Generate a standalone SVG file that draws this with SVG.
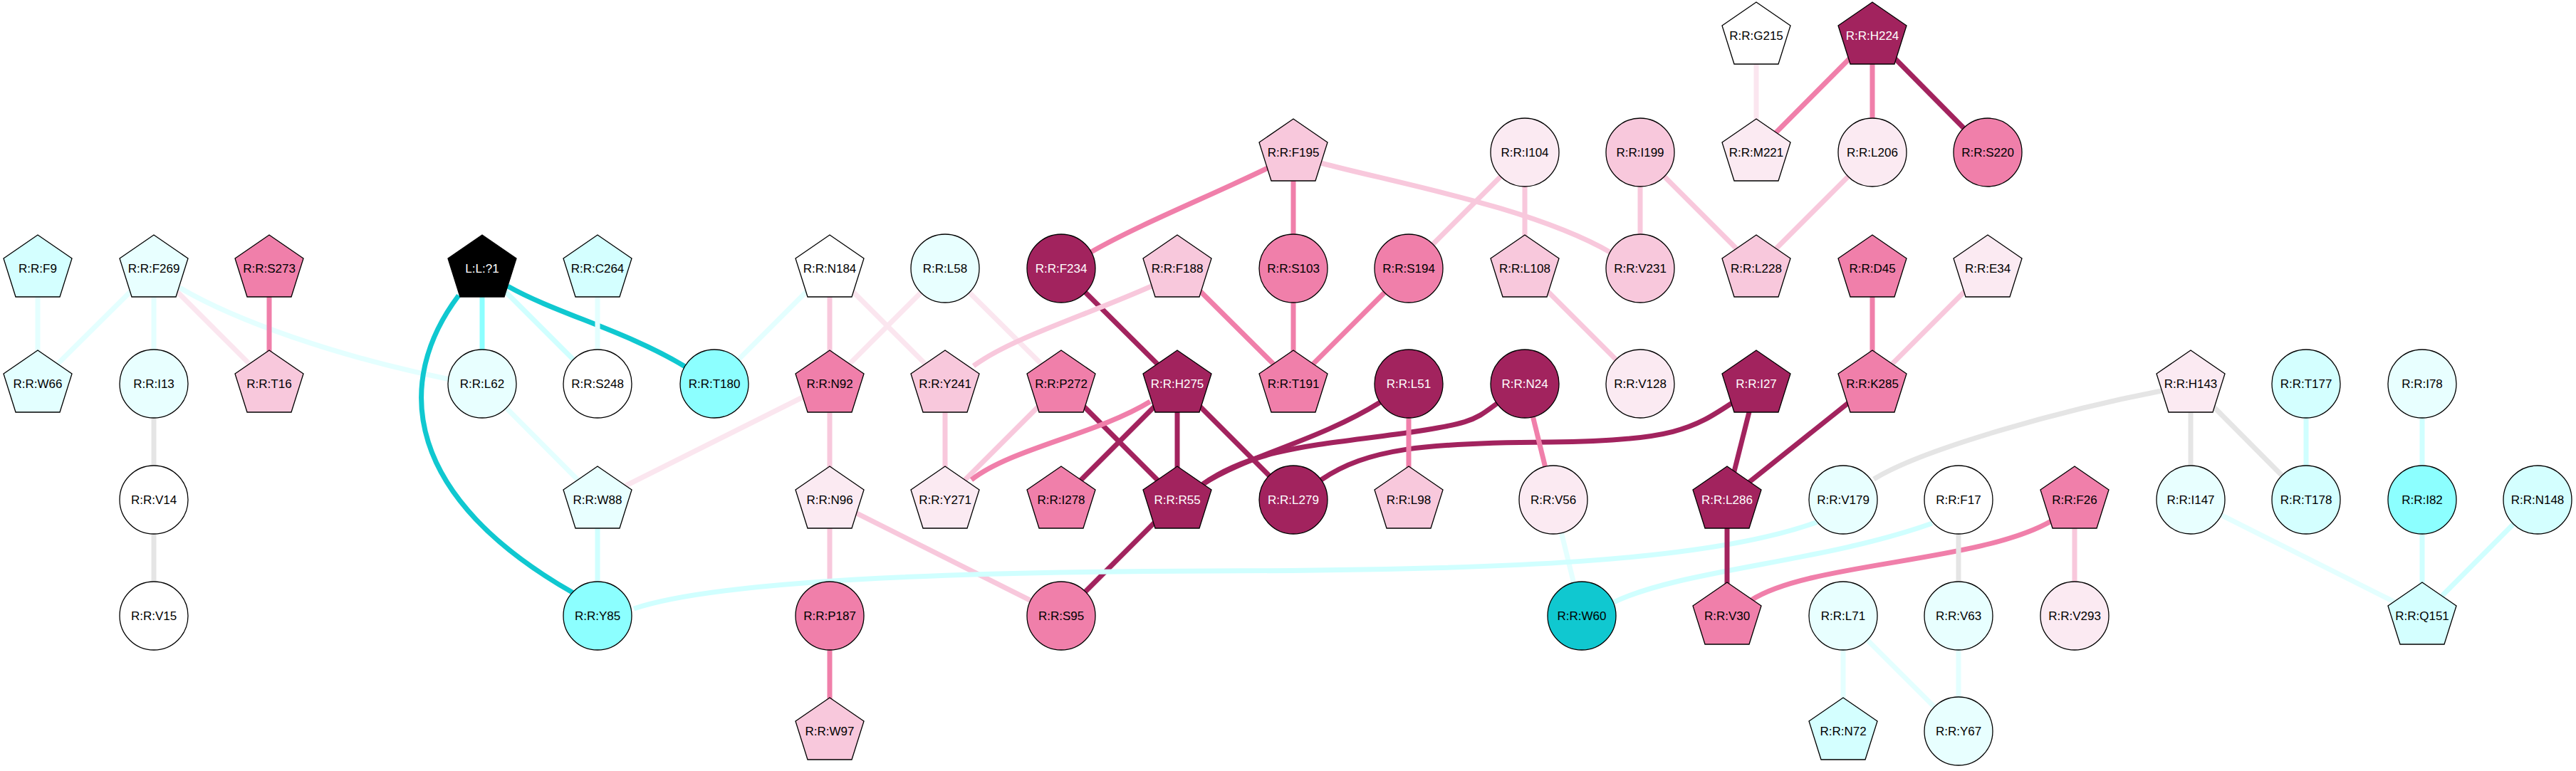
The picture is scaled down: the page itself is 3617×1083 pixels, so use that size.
<svg xmlns="http://www.w3.org/2000/svg" xmlns:xlink="http://www.w3.org/1999/xlink" width="3617" height="1083" viewBox="0 0 3617 1083">
<style>
.e{fill:none;stroke-width:7;stroke-linecap:butt}
.dk{stroke:#a2235e}.pk{stroke:#f07faa}.lp{stroke:#f8c8dc}.vlp{stroke:#fbe6ef}
.gr{stroke:#e5e5e5}.dc{stroke:#10c8d0}.cy{stroke:#8cffff}.lc{stroke:#d0ffff}.vlc{stroke:#e4ffff}
.n{stroke:#000;stroke-width:1.3}
.fdk{fill:#a2235e}.fpk{fill:#f07faa}.flp{fill:#f8c8dc}.fvlp{fill:#fbeaf2}.fw{fill:#fff}
.fvlc{fill:#e8ffff}.flc{fill:#d4ffff}.fcy{fill:#8cffff}.fdc{fill:#10c8d0}.fbk{fill:#000}
text{font-family:"Liberation Sans",Arial,sans-serif;font-size:17px;text-anchor:middle;fill:#000}
text.w{fill:#fff}
</style>
<defs>
<polygon id="pent" points="0,-47 48,-14 31,40 -31,40 -48,-14"/>
</defs>
<rect width="3617" height="1083" fill="#fff"/>
<g id="edges">
<line class="e vlc" x1="53" y1="377" x2="53" y2="539"/>
<line class="e vlc" x1="216" y1="377" x2="53" y2="539"/>
<line class="e vlc" x1="216" y1="377" x2="216" y2="539"/>
<line class="e vlp" x1="216" y1="377" x2="378" y2="539"/>
<path class="e vlc" d="M252,404 C330,450 470,500 632,533"/>
<line class="e pk" x1="378" y1="377" x2="378" y2="539"/>
<line class="e cy" x1="677" y1="377" x2="677" y2="539"/>
<line class="e lc" x1="677" y1="377" x2="839" y2="539"/>
<path class="e dc" d="M713,402 C780,440 880,465 962,515"/>
<path class="e dc" d="M644,415 C550,540 570,700 807,834"/>
<line class="e vlc" x1="839" y1="377" x2="839" y2="539"/>
<line class="e gr" x1="216" y1="539" x2="216" y2="702"/>
<line class="e gr" x1="216" y1="702" x2="216" y2="865"/>
<line class="e vlc" x1="677" y1="539" x2="839" y2="702"/>
<line class="e lc" x1="839" y1="702" x2="839" y2="865"/>
<line class="e vlp" x1="839" y1="702" x2="1165" y2="539"/>
<line class="e vlc" x1="1003" y1="539" x2="1165" y2="377"/>
<line class="e lp" x1="1165" y1="377" x2="1165" y2="539"/>
<line class="e vlp" x1="1165" y1="377" x2="1327" y2="539"/>
<line class="e vlp" x1="1327" y1="377" x2="1165" y2="539"/>
<line class="e vlp" x1="1327" y1="377" x2="1490" y2="539"/>
<path class="e pk" d="M1532,354 C1600,315 1700,275 1780,236"/>
<line class="e dk" x1="1490" y1="377" x2="1653" y2="539"/>
<path class="e lp" d="M1367,514 C1420,475 1520,445 1619,401"/>
<line class="e pk" x1="1653" y1="377" x2="1816" y2="539"/>
<line class="e pk" x1="1816" y1="214" x2="1816" y2="377"/>
<path class="e lp" d="M1855,229 C1950,255 2150,290 2262,355"/>
<line class="e pk" x1="1816" y1="377" x2="1816" y2="539"/>
<line class="e pk" x1="1978" y1="377" x2="1816" y2="539"/>
<line class="e lp" x1="1165" y1="539" x2="1165" y2="702"/>
<line class="e lp" x1="1327" y1="539" x2="1327" y2="702"/>
<line class="e lp" x1="1490" y1="539" x2="1327" y2="702"/>
<line class="e dk" x1="1490" y1="539" x2="1653" y2="702"/>
<path class="e pk" d="M1364,674 C1420,630 1540,610 1615,564"/>
<line class="e dk" x1="1653" y1="539" x2="1490" y2="702"/>
<line class="e dk" x1="1653" y1="539" x2="1653" y2="702"/>
<line class="e dk" x1="1653" y1="539" x2="1816" y2="702"/>
<line class="e lp" x1="1165" y1="702" x2="1165" y2="865"/>
<line class="e lp" x1="1165" y1="702" x2="1490" y2="865"/>
<line class="e dk" x1="1653" y1="702" x2="1490" y2="865"/>
<line class="e pk" x1="1165" y1="865" x2="1165" y2="1027"/>
<path class="e dk" d="M1689,680 C1750,640 1850,620 1938,565"/>
<path class="e dk" d="M1689,680 C1760,630 1850,625 1960,610 S2070,590 2103,566"/>
<path class="e dk" d="M1855,674 C1920,630 2000,622 2176,621 S2380,600 2432,566"/>
<line class="e pk" x1="1978" y1="539" x2="1978" y2="702"/>
<line class="e pk" x1="2141" y1="539" x2="2181" y2="702"/>
<line class="e vlc" x1="2181" y1="702" x2="2221" y2="865"/>
<path class="e lc" d="M890,855 C1000,818 1300,803 1700,802 C2100,801 2400,790 2555,732"/>
<path class="e lc" d="M2266,846 C2360,800 2560,790 2713,735"/>
<line class="e vlp" x1="2466" y1="50" x2="2466" y2="214"/>
<line class="e pk" x1="2629" y1="50" x2="2466" y2="214"/>
<line class="e pk" x1="2629" y1="50" x2="2629" y2="214"/>
<line class="e dk" x1="2629" y1="50" x2="2791" y2="214"/>
<line class="e lp" x1="2141" y1="214" x2="1978" y2="377"/>
<line class="e lp" x1="2141" y1="214" x2="2141" y2="377"/>
<line class="e lp" x1="2303" y1="214" x2="2303" y2="377"/>
<line class="e lp" x1="2303" y1="214" x2="2466" y2="377"/>
<line class="e lp" x1="2629" y1="214" x2="2466" y2="377"/>
<line class="e lp" x1="2141" y1="377" x2="2303" y2="539"/>
<line class="e pk" x1="2629" y1="377" x2="2629" y2="539"/>
<line class="e lp" x1="2791" y1="377" x2="2629" y2="539"/>
<line class="e dk" x1="2466" y1="539" x2="2425" y2="702"/>
<line class="e dk" x1="2629" y1="539" x2="2425" y2="702"/>
<line class="e dk" x1="2425" y1="702" x2="2425" y2="865"/>
<path class="e pk" d="M2459,843 C2540,790 2780,790 2880,732"/>
<line class="e lp" x1="2913" y1="702" x2="2913" y2="865"/>
<line class="e gr" x1="2750" y1="702" x2="2750" y2="865"/>
<path class="e gr" d="M2631,673 C2700,630 2900,575 3035,549"/>
<line class="e gr" x1="3076" y1="539" x2="3076" y2="702"/>
<line class="e gr" x1="3076" y1="539" x2="3238" y2="702"/>
<line class="e lc" x1="3238" y1="539" x2="3238" y2="702"/>
<line class="e lc" x1="3401" y1="539" x2="3401" y2="702"/>
<line class="e lc" x1="3401" y1="702" x2="3401" y2="865"/>
<line class="e lc" x1="3563" y1="702" x2="3401" y2="865"/>
<line class="e vlc" x1="3076" y1="702" x2="3401" y2="865"/>
<line class="e vlc" x1="2588" y1="865" x2="2588" y2="1027"/>
<line class="e vlc" x1="2588" y1="865" x2="2750" y2="1027"/>
<line class="e vlc" x1="2750" y1="865" x2="2750" y2="1027"/>
</g>
<g id="L_L_1"><use href="#pent" x="677" y="377" class="n fbk"/><text x="677" y="383" class="w">L:L:?1</text></g>
<g id="F9"><use href="#pent" x="53" y="377" class="n flc"/><text x="53" y="383">R:R:F9</text></g>
<g id="F269"><use href="#pent" x="216" y="377" class="n fvlc"/><text x="216" y="383">R:R:F269</text></g>
<g id="S273"><use href="#pent" x="378" y="377" class="n fpk"/><text x="378" y="383">R:R:S273</text></g>
<g id="C264"><use href="#pent" x="839" y="377" class="n flc"/><text x="839" y="383">R:R:C264</text></g>
<g id="W66"><use href="#pent" x="53" y="539" class="n" fill="#e3ffff"/><text x="53" y="545">R:R:W66</text></g>
<g id="I13"><circle cx="216" cy="539" r="48" class="n fvlc"/><text x="216" y="545">R:R:I13</text></g>
<g id="T16"><use href="#pent" x="378" y="539" class="n flp"/><text x="378" y="545">R:R:T16</text></g>
<g id="L62"><circle cx="677" cy="539" r="48" class="n fvlc"/><text x="677" y="545">R:R:L62</text></g>
<g id="S248"><circle cx="839" cy="539" r="48" class="n fw"/><text x="839" y="545">R:R:S248</text></g>
<g id="T180"><circle cx="1003" cy="539" r="48" class="n fcy"/><text x="1003" y="545">R:R:T180</text></g>
<g id="V14"><circle cx="216" cy="702" r="48" class="n fw"/><text x="216" y="708">R:R:V14</text></g>
<g id="V15"><circle cx="216" cy="865" r="48" class="n fw"/><text x="216" y="871">R:R:V15</text></g>
<g id="W88"><use href="#pent" x="839" y="702" class="n fvlc"/><text x="839" y="708">R:R:W88</text></g>
<g id="Y85"><circle cx="839" cy="865" r="48" class="n fcy"/><text x="839" y="871">R:R:Y85</text></g>
<g id="N184"><use href="#pent" x="1165" y="377" class="n fw"/><text x="1165" y="383">R:R:N184</text></g>
<g id="L58"><circle cx="1327" cy="377" r="48" class="n fvlc"/><text x="1327" y="383">R:R:L58</text></g>
<g id="F234"><circle cx="1490" cy="377" r="48" class="n fdk"/><text x="1490" y="383" class="w">R:R:F234</text></g>
<g id="F188"><use href="#pent" x="1653" y="377" class="n flp"/><text x="1653" y="383">R:R:F188</text></g>
<g id="F195"><use href="#pent" x="1816" y="214" class="n flp"/><text x="1816" y="220">R:R:F195</text></g>
<g id="S103"><circle cx="1816" cy="377" r="48" class="n fpk"/><text x="1816" y="383">R:R:S103</text></g>
<g id="S194"><circle cx="1978" cy="377" r="48" class="n fpk"/><text x="1978" y="383">R:R:S194</text></g>
<g id="N92"><use href="#pent" x="1165" y="539" class="n fpk"/><text x="1165" y="545">R:R:N92</text></g>
<g id="Y241"><use href="#pent" x="1327" y="539" class="n flp"/><text x="1327" y="545">R:R:Y241</text></g>
<g id="P272"><use href="#pent" x="1490" y="539" class="n fpk"/><text x="1490" y="545">R:R:P272</text></g>
<g id="H275"><use href="#pent" x="1653" y="539" class="n fdk"/><text x="1653" y="545" class="w">R:R:H275</text></g>
<g id="T191"><use href="#pent" x="1816" y="539" class="n fpk"/><text x="1816" y="545">R:R:T191</text></g>
<g id="L51"><circle cx="1978" cy="539" r="48" class="n fdk"/><text x="1978" y="545" class="w">R:R:L51</text></g>
<g id="N96"><use href="#pent" x="1165" y="702" class="n fvlp"/><text x="1165" y="708">R:R:N96</text></g>
<g id="Y271"><use href="#pent" x="1327" y="702" class="n fvlp"/><text x="1327" y="708">R:R:Y271</text></g>
<g id="I278"><use href="#pent" x="1490" y="702" class="n fpk"/><text x="1490" y="708">R:R:I278</text></g>
<g id="R55"><use href="#pent" x="1653" y="702" class="n fdk"/><text x="1653" y="708" class="w">R:R:R55</text></g>
<g id="L279"><circle cx="1816" cy="702" r="48" class="n fdk"/><text x="1816" y="708" class="w">R:R:L279</text></g>
<g id="L98"><use href="#pent" x="1978" y="702" class="n flp"/><text x="1978" y="708">R:R:L98</text></g>
<g id="P187"><circle cx="1165" cy="865" r="48" class="n fpk"/><text x="1165" y="871">R:R:P187</text></g>
<g id="S95"><circle cx="1490" cy="865" r="48" class="n fpk"/><text x="1490" y="871">R:R:S95</text></g>
<g id="W97"><use href="#pent" x="1165" y="1027" class="n flp"/><text x="1165" y="1033">R:R:W97</text></g>
<g id="G215"><use href="#pent" x="2466" y="50" class="n fw"/><text x="2466" y="56">R:R:G215</text></g>
<g id="H224"><use href="#pent" x="2629" y="50" class="n fdk"/><text x="2629" y="56" class="w">R:R:H224</text></g>
<g id="I104"><circle cx="2141" cy="214" r="48" class="n fvlp"/><text x="2141" y="220">R:R:I104</text></g>
<g id="I199"><circle cx="2303" cy="214" r="48" class="n flp"/><text x="2303" y="220">R:R:I199</text></g>
<g id="M221"><use href="#pent" x="2466" y="214" class="n fvlp"/><text x="2466" y="220">R:R:M221</text></g>
<g id="L206"><circle cx="2629" cy="214" r="48" class="n fvlp"/><text x="2629" y="220">R:R:L206</text></g>
<g id="S220"><circle cx="2791" cy="214" r="48" class="n fpk"/><text x="2791" y="220">R:R:S220</text></g>
<g id="L108"><use href="#pent" x="2141" y="377" class="n flp"/><text x="2141" y="383">R:R:L108</text></g>
<g id="V231"><circle cx="2303" cy="377" r="48" class="n flp"/><text x="2303" y="383">R:R:V231</text></g>
<g id="L228"><use href="#pent" x="2466" y="377" class="n flp"/><text x="2466" y="383">R:R:L228</text></g>
<g id="D45"><use href="#pent" x="2629" y="377" class="n fpk"/><text x="2629" y="383">R:R:D45</text></g>
<g id="E34"><use href="#pent" x="2791" y="377" class="n fvlp"/><text x="2791" y="383">R:R:E34</text></g>
<g id="N24"><circle cx="2141" cy="539" r="48" class="n fdk"/><text x="2141" y="545" class="w">R:R:N24</text></g>
<g id="V128"><circle cx="2303" cy="539" r="48" class="n fvlp"/><text x="2303" y="545">R:R:V128</text></g>
<g id="I27"><use href="#pent" x="2466" y="539" class="n fdk"/><text x="2466" y="545" class="w">R:R:I27</text></g>
<g id="K285"><use href="#pent" x="2629" y="539" class="n fpk"/><text x="2629" y="545">R:R:K285</text></g>
<g id="V56"><circle cx="2181" cy="702" r="48" class="n fvlp"/><text x="2181" y="708">R:R:V56</text></g>
<g id="L286"><use href="#pent" x="2425" y="702" class="n fdk"/><text x="2425" y="708" class="w">R:R:L286</text></g>
<g id="V179"><circle cx="2588" cy="702" r="48" class="n fvlc"/><text x="2588" y="708">R:R:V179</text></g>
<g id="F17"><circle cx="2750" cy="702" r="48" class="n fw"/><text x="2750" y="708">R:R:F17</text></g>
<g id="F26"><use href="#pent" x="2913" y="702" class="n fpk"/><text x="2913" y="708">R:R:F26</text></g>
<g id="W60"><circle cx="2221" cy="865" r="48" class="n fdc"/><text x="2221" y="871">R:R:W60</text></g>
<g id="V30"><use href="#pent" x="2425" y="865" class="n fpk"/><text x="2425" y="871">R:R:V30</text></g>
<g id="L71"><circle cx="2588" cy="865" r="48" class="n fvlc"/><text x="2588" y="871">R:R:L71</text></g>
<g id="V63"><circle cx="2750" cy="865" r="48" class="n fvlc"/><text x="2750" y="871">R:R:V63</text></g>
<g id="V293"><circle cx="2913" cy="865" r="48" class="n fvlp"/><text x="2913" y="871">R:R:V293</text></g>
<g id="N72"><use href="#pent" x="2588" y="1027" class="n flc"/><text x="2588" y="1033">R:R:N72</text></g>
<g id="Y67"><circle cx="2750" cy="1027" r="48" class="n fvlc"/><text x="2750" y="1033">R:R:Y67</text></g>
<g id="H143"><use href="#pent" x="3076" y="539" class="n fvlp"/><text x="3076" y="545">R:R:H143</text></g>
<g id="T177"><circle cx="3238" cy="539" r="48" class="n flc"/><text x="3238" y="545">R:R:T177</text></g>
<g id="I78"><circle cx="3401" cy="539" r="48" class="n fvlc"/><text x="3401" y="545">R:R:I78</text></g>
<g id="I147"><circle cx="3076" cy="702" r="48" class="n fvlc"/><text x="3076" y="708">R:R:I147</text></g>
<g id="T178"><circle cx="3238" cy="702" r="48" class="n flc"/><text x="3238" y="708">R:R:T178</text></g>
<g id="I82"><circle cx="3401" cy="702" r="48" class="n fcy"/><text x="3401" y="708">R:R:I82</text></g>
<g id="N148"><circle cx="3563" cy="702" r="48" class="n flc"/><text x="3563" y="708">R:R:N148</text></g>
<g id="Q151"><use href="#pent" x="3401" y="865" class="n flc"/><text x="3401" y="871">R:R:Q151</text></g>
</svg>
